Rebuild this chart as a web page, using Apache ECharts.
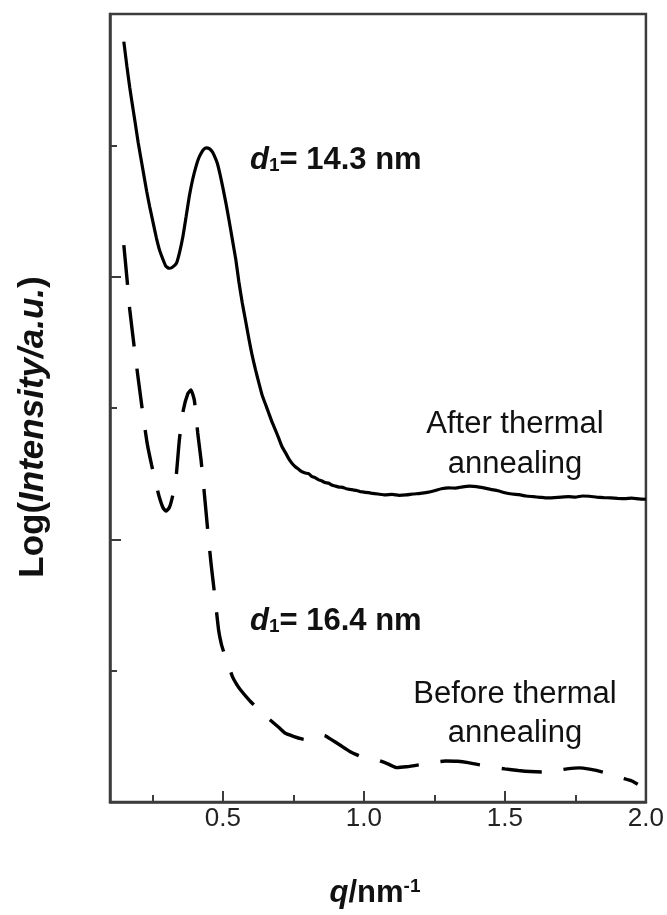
<!DOCTYPE html>
<html>
<head>
<meta charset="utf-8">
<title>SAXS profiles before and after thermal annealing</title>
<script src="https://cdn.jsdelivr.net/npm/echarts@6/dist/echarts.min.js"></script>
<style>
  html, body { margin: 0; padding: 0; background: #ffffff; }
  #chart { width: 667px; height: 915px; }
</style>
</head>
<body>
<div id="chart"></div>
<script>
// Scattering vector q (nm^-1) and log intensity for the annealed film (solid curve)
const afterQ = [
  0.149, 0.160, 0.170, 0.180, 0.188, 0.200, 0.217, 0.230, 0.241, 0.253,
  0.264, 0.276, 0.288, 0.298, 0.309, 0.320, 0.335, 0.346, 0.358, 0.370,
  0.381, 0.393, 0.405, 0.414, 0.423, 0.432, 0.442, 0.452, 0.463, 0.472,
  0.481, 0.490, 0.499, 0.511, 0.522, 0.534, 0.546, 0.557, 0.569, 0.581,
  0.593, 0.604, 0.616, 0.628, 0.639, 0.651, 0.663, 0.675, 0.687, 0.698,
  0.710, 0.722, 0.733, 0.745, 0.757, 0.768, 0.780, 0.792, 0.804, 0.815,
  0.825, 0.838, 0.850, 0.862, 0.875, 0.888, 0.900, 0.912, 0.925, 0.938,
  0.950, 0.962, 0.975, 0.988, 1.000, 1.025, 1.050, 1.075, 1.100, 1.125,
  1.150, 1.175, 1.200, 1.225, 1.250, 1.275, 1.300, 1.325, 1.350, 1.375,
  1.400, 1.425, 1.450, 1.475, 1.500, 1.525, 1.550, 1.575, 1.600, 1.625,
  1.650, 1.675, 1.700, 1.725, 1.750, 1.775, 1.800, 1.825, 1.850, 1.875,
  1.900, 1.925, 1.950, 1.975, 2.000
];
const afterLogI = [
  5.79, 5.60, 5.44, 5.30, 5.19, 5.02, 4.81, 4.65, 4.53, 4.41,
  4.30, 4.20, 4.13, 4.08, 4.064, 4.07, 4.10, 4.18, 4.30, 4.46,
  4.61, 4.74, 4.84, 4.90, 4.94, 4.97, 4.98, 4.975, 4.95, 4.91,
  4.86, 4.78, 4.69, 4.56, 4.43, 4.28, 4.13, 3.96, 3.80, 3.66,
  3.52, 3.40, 3.29, 3.19, 3.10, 3.03, 2.96, 2.89, 2.83, 2.77,
  2.705, 2.66, 2.617, 2.58, 2.553, 2.535, 2.515, 2.505, 2.500, 2.480,
  2.472, 2.455, 2.446, 2.432, 2.428, 2.412, 2.405, 2.398, 2.396, 2.385,
  2.380, 2.376, 2.372, 2.362, 2.360, 2.352, 2.345, 2.338, 2.342, 2.335,
  2.338, 2.345, 2.350, 2.358, 2.370, 2.385, 2.392, 2.390, 2.400, 2.405,
  2.402, 2.392, 2.380, 2.370, 2.355, 2.345, 2.340, 2.330, 2.325, 2.320,
  2.315, 2.318, 2.322, 2.325, 2.322, 2.330, 2.328, 2.322, 2.318, 2.315,
  2.312, 2.310, 2.314, 2.308, 2.305
];

// Log intensity for the as-cast film (dashed curve)
const beforeQ = [
  0.149, 0.160, 0.170, 0.185, 0.199, 0.215, 0.231, 0.247, 0.262, 0.275,
  0.288, 0.298, 0.310, 0.322, 0.335, 0.346, 0.360, 0.376, 0.387, 0.399,
  0.411, 0.423, 0.434, 0.446, 0.458, 0.472, 0.485, 0.495, 0.505, 0.520,
  0.534, 0.548, 0.563, 0.592, 0.622, 0.648, 0.675, 0.700, 0.722, 0.750,
  0.780, 0.804, 0.825, 0.845, 0.862, 0.885, 0.915, 0.950, 0.991, 1.020,
  1.050, 1.085, 1.117, 1.150, 1.196, 1.240, 1.290, 1.333, 1.370, 1.411,
  1.450, 1.500, 1.548, 1.590, 1.633, 1.680, 1.720, 1.763, 1.800, 1.847,
  1.880, 1.920, 1.950, 1.971
];
const beforeLogI = [
  4.24, 3.99, 3.75, 3.48, 3.24, 2.98, 2.74, 2.57, 2.43, 2.32,
  2.24, 2.215, 2.24, 2.33, 2.49, 2.76, 2.985, 3.11, 3.137, 3.06,
  2.81, 2.60, 2.36, 2.08, 1.82, 1.56, 1.31, 1.20, 1.13, 1.04,
  0.955, 0.90, 0.853, 0.78, 0.713, 0.66, 0.611, 0.565, 0.523, 0.500,
  0.480, 0.472, 0.500, 0.512, 0.505, 0.475, 0.434, 0.385, 0.345, 0.332,
  0.318, 0.290, 0.262, 0.268, 0.283, 0.300, 0.312, 0.310, 0.300, 0.283,
  0.268, 0.252, 0.240, 0.232, 0.228, 0.240, 0.252, 0.260, 0.250, 0.228,
  0.205, 0.180, 0.160, 0.135
];

// Axis ticks
const xMajorTicks = [0.5, 1.0, 1.5, 2.0];
const xMinorTicks = [0.25, 0.75, 1.25, 1.75];

const FONT = '"Liberation Sans", Arial, Helvetica, sans-serif';
const INK = '#111111';
const FRAME = '#3c3c3c';

const toPairs = (xs, ys) => xs.map((x, i) => [x, ys[i]]);

const chart = echarts.init(document.getElementById('chart'), null, { renderer: 'canvas' });

const tickLine = { color: FRAME, width: 2 };

// d-spacing annotation with italic d and subscript 1
const spacingLabel = (x, y, text) => ({
  type: 'text', x, y,
  style: {
    text: '{d|d}{s|1}{n|= ' + text + '}',
    align: 'left', verticalAlign: 'middle', fill: INK,
    rich: {
      d: { fontSize: 31, fontWeight: 'bold', fontStyle: 'italic', fontFamily: FONT, fill: INK },
      s: { fontSize: 19, fontWeight: 'bold', fontFamily: FONT, fill: INK, verticalAlign: 'bottom' },
      n: { fontSize: 31, fontWeight: 'bold', fontFamily: FONT, fill: INK }
    }
  }
});

chart.setOption({
  animation: false,
  backgroundColor: '#ffffff',
  grid: {
    left: 110, right: 17, top: 14, bottom: 113,
    show: true, borderColor: FRAME, borderWidth: 2.5
  },
  xAxis: [
    {
      type: 'value', min: 0.1, max: 2.0,
      axisLine: { show: true, onZero: false, lineStyle: { color: FRAME, width: 2.5 } },
      axisTick: { show: true, inside: true, length: 11, customValues: xMajorTicks, lineStyle: tickLine },
      axisLabel: {
        show: true, customValues: xMajorTicks, margin: 4,
        formatter: v => v.toFixed(1),
        fontSize: 26, fontFamily: FONT, color: '#222222'
      },
      splitLine: { show: false }
    },
    {
      type: 'value', min: 0.1, max: 2.0, position: 'bottom',
      axisLine: { show: false },
      axisTick: { show: true, inside: true, length: 7, customValues: xMinorTicks, lineStyle: tickLine },
      axisLabel: { show: false },
      splitLine: { show: false }
    }
  ],
  yAxis: {
    type: 'value', min: 0, max: 6, interval: 2,
    axisLine: { show: true, onZero: false, lineStyle: { color: FRAME, width: 2.5 } },
    axisTick: { show: true, inside: true, length: 11, lineStyle: tickLine },
    minorTick: { show: true, splitNumber: 2, length: 7, lineStyle: tickLine },
    axisLabel: { show: false },
    splitLine: { show: false },
    minorSplitLine: { show: false }
  },
  series: [
    {
      name: 'After thermal annealing',
      type: 'line',
      xAxisIndex: 0,
      data: toPairs(afterQ, afterLogI),
      showSymbol: false,
      smooth: 0.15,
      lineStyle: { color: '#000000', width: 3.2 }
    },
    {
      name: 'Before thermal annealing',
      type: 'line',
      xAxisIndex: 0,
      data: toPairs(beforeQ, beforeLogI),
      showSymbol: false,
      smooth: 0.15,
      lineStyle: { color: '#000000', width: 3.4, type: [40, 22] }
    }
  ],
  graphic: [
    {
      type: 'text', x: 33, y: 427, rotation: Math.PI / 2,
      style: {
        text: '{n|Log(}{i|Intensity/a.u.}{n|)}',
        align: 'center', verticalAlign: 'middle', fill: INK,
        rich: {
          n: { fontSize: 35, fontWeight: 'bold', fontFamily: FONT, fill: INK },
          i: { fontSize: 35, fontWeight: 'bold', fontStyle: 'italic', fontFamily: FONT, fill: INK }
        }
      }
    },
    {
      type: 'text', x: 375, y: 893,
      style: {
        text: '{i|q}{n|/nm}{s|-1}',
        align: 'center', verticalAlign: 'middle', fill: INK,
        rich: {
          i: { fontSize: 31, fontWeight: 'bold', fontStyle: 'italic', fontFamily: FONT, fill: INK },
          n: { fontSize: 31, fontWeight: 'bold', fontFamily: FONT, fill: INK },
          s: { fontSize: 19, fontWeight: 'bold', fontFamily: FONT, fill: INK, verticalAlign: 'top' }
        }
      }
    },
    spacingLabel(250, 160, '14.3 nm'),
    spacingLabel(250, 621, '16.4 nm'),
    {
      type: 'text', x: 515, y: 444,
      style: {
        text: 'After thermal\nannealing',
        align: 'center', verticalAlign: 'middle',
        fontSize: 31, fontFamily: FONT, lineHeight: 40, fill: INK
      }
    },
    {
      type: 'text', x: 515, y: 714,
      style: {
        text: 'Before thermal\nannealing',
        align: 'center', verticalAlign: 'middle',
        fontSize: 31, fontFamily: FONT, lineHeight: 39, fill: INK
      }
    }
  ]
});
</script>
</body>
</html>
